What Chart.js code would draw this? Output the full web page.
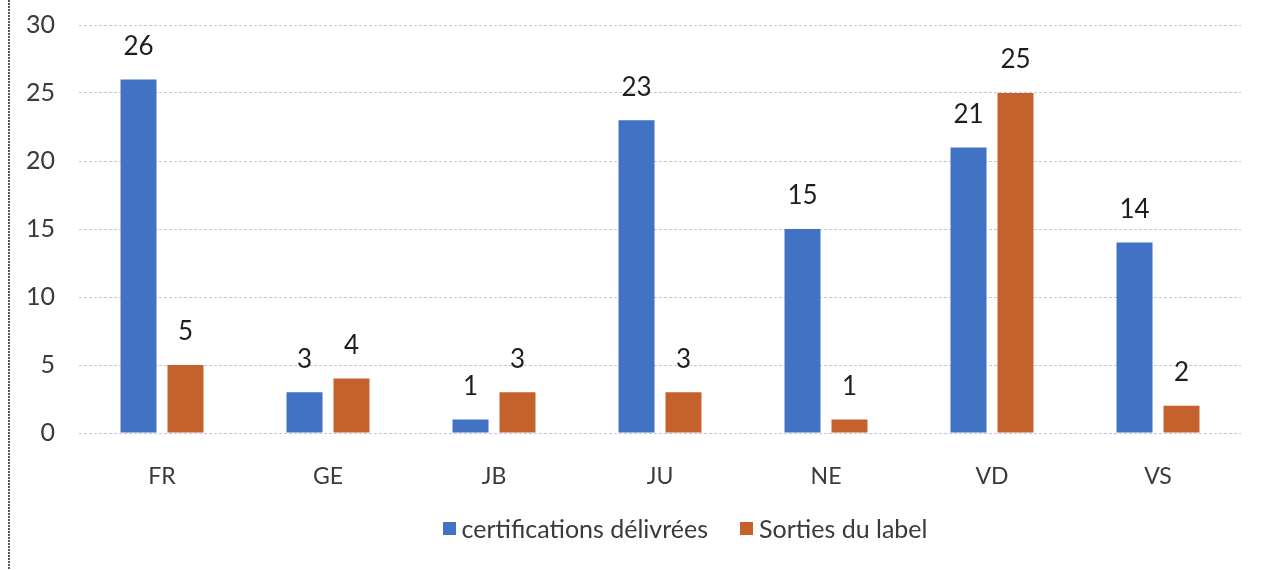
<!DOCTYPE html>
<html>
<head>
<meta charset="utf-8">
<script src="https://cdn.jsdelivr.net/npm/chart.js@4.4.0/dist/chart.umd.min.js"></script>
<style>
    html, body { margin: 0; padding: 0; background: #fff; }
    #cadre { position: relative; width: 1264px; height: 570px; }
    #legende {
        position: absolute; left: 0; width: 1370px; top: 513px;
        display: flex; justify-content: center; gap: 32px;
        font-family: Lato, "Open Sans", sans-serif; font-size: 25px; color: #3a3a3a;
    }
    #legende span.item { display: flex; align-items: center; }
    #legende span.carre { width: 13px; height: 13px; margin-right: 6px; display: inline-block; }
</style>
</head>
<body>
<div id="cadre">
    <canvas id="grafico_cantons"></canvas>
    <div id="legende"></div>
</div>
<script>
// cantons et valeurs
const cantons = ['FR', 'GE', 'JB', 'JU', 'NE', 'VD', 'VS'];
const certifications = [26, 3, 1, 23, 15, 21, 14];
const sorties = [5, 4, 3, 3, 1, 25, 2];
const ticks_y = [0, 5, 10, 15, 20, 25, 30];

const fonte = 'Lato, "Open Sans", sans-serif';

// valeurs au-dessus des barres
const etiquettes = {
    id: 'etiquettes',
    afterDatasetsDraw(chart) {
        const ctx = chart.ctx;
        ctx.save();
        ctx.fillStyle = '#1e1e1e';
        ctx.font = '26px ' + fonte;
        ctx.textAlign = 'center';
        ctx.textBaseline = 'middle';
        chart.data.datasets.forEach(function (ds, i) {
            chart.getDatasetMeta(i).data.forEach(function (barre, j) {
                ctx.fillText(ds.data[j], barre.x, barre.y - 33);
            });
        });
        ctx.restore();
    }
};

// trait pointillé à gauche de la page
const bordure = {
    id: 'bordure',
    beforeDraw(chart) {
        const ctx = chart.ctx;
        ctx.save();
        ctx.strokeStyle = '#5a5a5a';
        ctx.lineWidth = 2;
        ctx.setLineDash([2, 1]);
        ctx.beginPath();
        ctx.moveTo(9, 0);
        ctx.lineTo(9, chart.height);
        ctx.stroke();
        ctx.restore();
    }
};

const data_cantons = {
    labels: cantons,
    datasets: [{
        label: 'certifications délivrées',
        data: certifications,
        backgroundColor: '#4272c4',
        borderWidth: 0
    }, {
        label: 'Sorties du label',
        data: sorties,
        backgroundColor: '#c4612c',
        borderWidth: 0
    }]
};

const config_cantons = {
    type: 'bar',
    data: data_cantons,
    plugins: [bordure, etiquettes],
    options: {
        responsive: false,
        animation: false,
        categoryPercentage: 0.566,
        barPercentage: 0.766,
        layout: { padding: { left: 0, right: 23, top: 25, bottom: 60 } },
        scales: {
            y: {
                min: 0,
                max: 30,
                afterBuildTicks: function (axe) {
                    axe.ticks = ticks_y.map(v => ({ value: v }));
                },
                afterFit: function (axe) {
                    axe.width = 79;
                    axe.paddingTop = 0;
                    axe.paddingBottom = 0;
                },
                grid: {
                    color: '#c3c8d8',
                    lineWidth: 1,
                    drawTicks: false
                },
                border: { display: false, dash: [3, 2] },
                ticks: {
                    color: '#3a3a3a',
                    padding: 24,
                    font: { size: 25, family: fonte }
                }
            },
            x: {
                afterFit: function (axe) { axe.height = 77; },
                border: { display: false },
                grid: { display: false },
                ticks: {
                    color: '#3a3a3a',
                    padding: 22,
                    font: { size: 23, family: fonte }
                }
            }
        },
        plugins: {
            tooltip: { enabled: false },
            legend: { display: false }
        }
    }
};

const canvas = document.getElementById('grafico_cantons');
canvas.width = 1264;
canvas.height = 570;
const grafico_cantons = new Chart(canvas, config_cantons);

// légende sous le graphique
const legende = document.getElementById('legende');
data_cantons.datasets.forEach(function (ds) {
    const item = document.createElement('span');
    item.className = 'item';
    const carre = document.createElement('span');
    carre.className = 'carre';
    carre.style.background = ds.backgroundColor;
    item.appendChild(carre);
    item.appendChild(document.createTextNode(ds.label));
    legende.appendChild(item);
});
</script>
</body>
</html>
